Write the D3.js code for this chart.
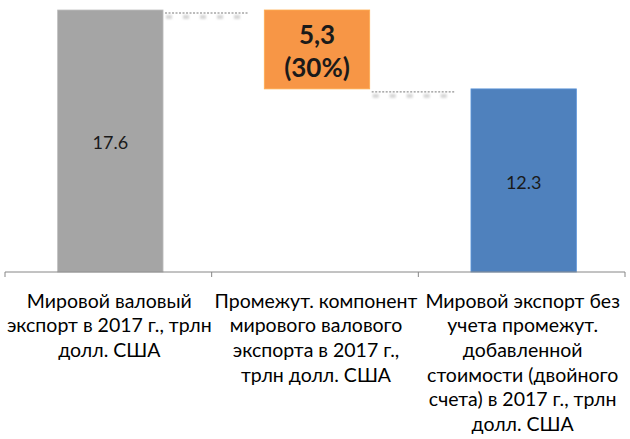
<!DOCTYPE html>
<html>
<head>
<meta charset="utf-8">
<script src="https://cdn.jsdelivr.net/npm/d3@7"></script>
<style>
  body { margin: 0; background: #fff; }
  svg { display: block; }
</style>
</head>
<body>
<svg id="chart" width="630" height="439"></svg>
<script>
// waterfall data
var categories = ["gross", "interm", "net"];
var values = [17.6, 5.3, 12.3];
var bases = [0, 12.3, 0];
var barColors = ["#A5A5A5", "#F79646", "#4F81BD"];
var valueLabels = [["17.6"], ["5,3", "(30%)"], ["12.3"]];
var tickLabels = [
  ["Мировой валовый", "экспорт в 2017 г., трлн", "долл. США"],
  ["Промежут. компонент", "мирового валового", "экспорта в 2017 г.,", "трлн долл. США"],
  ["Мировой экспорт без", "учета промежут.", "добавленной", "стоимости (двойного", "счета) в 2017 г., трлн", "долл. США"]
];

var svg = d3.select("#chart");
var font = "Lato, 'Open Sans', sans-serif";

var x = d3.scaleBand().domain(categories).range([5, 625]);
var y = d3.scaleLinear().domain([0, 17.6]).range([272, 10]);
var barW = x.bandwidth() * 0.51;

// bars
svg.selectAll("rect.bar")
  .data(categories).enter()
  .append("rect")
  .attr("class", "bar")
  .attr("x", function(d){ return x(d) + x.bandwidth()/2 - barW/2 + 2; })
  .attr("y", function(d, i){ return y(bases[i] + values[i]); })
  .attr("width", barW)
  .attr("height", function(d, i){ return y(bases[i]) - y(bases[i] + values[i]); })
  .attr("fill", function(d, i){ return barColors[i]; })
  .attr("stroke", function(d, i){ return d3.color(barColors[i]).brighter(0.4); })
  .attr("stroke-width", 0.8);

// connector lines (with blurred hidden labels under them)
var defs = svg.append("defs");
defs.append("filter").attr("id", "blur")
  .attr("filterUnits", "userSpaceOnUse")
  .attr("x", 0).attr("y", 0).attr("width", 630).attr("height", 439)
  .append("feGaussianBlur").attr("stdDeviation", 1.1);

var connectors = [0, 1];
connectors.forEach(function(i){
  var level = i === 1 ? bases[i] : bases[i] + values[i];
  var x0 = x(categories[i]) + x.bandwidth()/2 + barW/2 + 4;
  var x1 = x0 + 84;
  svg.append("line")
    .attr("x1", x0).attr("x2", x1)
    .attr("y1", y(level) + 3).attr("y2", y(level) + 3)
    .attr("stroke", "#555").attr("stroke-width", 0.8)
    .attr("stroke-dasharray", "2,1.5");
  var blobs = svg.append("g").attr("filter", "url(#blur)");
  d3.range(x0, x1 - 4, 17).forEach(function(bx){
    blobs.append("rect")
      .attr("x", bx + 1).attr("y", y(level) + 5)
      .attr("width", 6).attr("height", 4)
      .attr("fill", "#d6d6d6");
  });
});

// value labels
svg.selectAll("text.value")
  .data(categories).enter()
  .append("text")
  .attr("class", "value")
  .attr("text-anchor", "middle")
  .attr("font-family", font)
  .attr("font-size", function(d, i){ return i === 1 ? 26 : 18; })
  .attr("font-weight", function(d, i){ return i === 1 ? "bold" : "normal"; })
  .attr("fill", "#1a1a1a")
  .each(function(d, i){
    var cx = x(d) + x.bandwidth()/2 + 2;
    var mid = (y(bases[i]) + y(bases[i] + values[i])) / 2;
    var lines = valueLabels[i];
    var lh = i === 1 ? 33 : 16;
    var start = mid - (lines.length - 1) * lh / 2 + 2;
    var t = d3.select(this);
    lines.forEach(function(l, k){
      t.append("tspan").attr("x", cx).attr("y", start + k*lh).attr("dy", "0.35em").text(l);
    });
  });

// axis
var axisY = y(0);
svg.append("line")
  .attr("x1", 5).attr("x2", 625)
  .attr("y1", axisY).attr("y2", axisY)
  .attr("stroke", "#868686").attr("stroke-width", 1);
var tickPos = categories.map(function(c){ return x(c); }).concat([x.range()[1]]);
svg.selectAll("line.tick")
  .data(tickPos).enter()
  .append("line")
  .attr("class", "tick")
  .attr("x1", function(d){ return d; }).attr("x2", function(d){ return d; })
  .attr("y1", axisY).attr("y2", axisY + 5)
  .attr("stroke", "#868686");

// category labels
svg.selectAll("text.cat")
  .data(categories).enter()
  .append("text")
  .attr("class", "cat")
  .attr("text-anchor", "middle")
  .attr("font-family", font)
  .attr("font-size", 19.5)
  .attr("fill", "#000")
  .each(function(d, i){
    var cx = x(d) + x.bandwidth()/2 + 1;
    var t = d3.select(this);
    tickLabels[i].forEach(function(l, k){
      t.append("tspan").attr("x", cx).attr("y", 301 + k*24.6).attr("dy", "0.35em").text(l);
    });
  });
</script>
</body>
</html>
